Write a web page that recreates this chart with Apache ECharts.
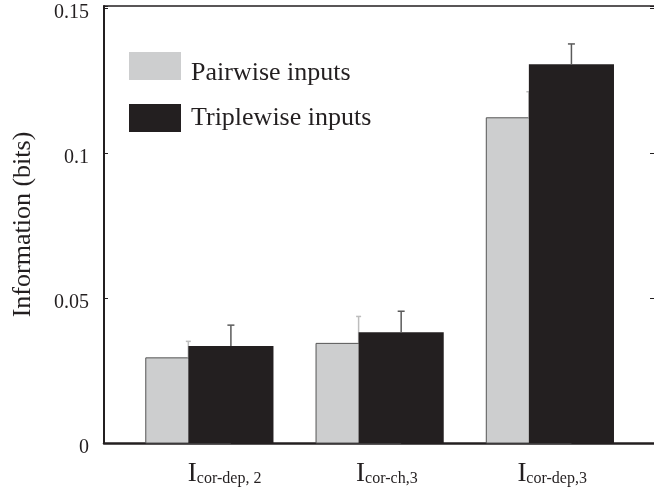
<!DOCTYPE html>
<html>
<head>
<meta charset="utf-8">
<script src="https://cdn.jsdelivr.net/npm/echarts@6/dist/echarts.min.js"></script>
<style>
html,body{margin:0;padding:0;background:#fff;}
#chart{width:654px;height:497px;}
</style>
</head>
<body>
<div id="chart"></div>
<script>
// ---- data ----
const categories = ['cor-dep, 2', 'cor-ch,3', 'cor-dep,3'];
const seriesNames = ['Pairwise inputs', 'Triplewise inputs'];
const pairwise = [0.0294, 0.0344, 0.1123];
const pairwiseErr = [0.0057, 0.0093, 0.0090];
const triplewise = [0.0335, 0.0382, 0.1308];
const triplewiseErr = [0.0072, 0.0073, 0.0070];
const yTicks = [0, 0.05, 0.1, 0.15];
const yLabel = 'Information (bits)';

// ---- styling ----
const FONT = '"Liberation Serif", "Times New Roman", serif';
const TXT = '#231f20';
const GRAY = '#cdcecf';
const BLACK = '#231f20';

const catPos = categories.map((c, i) => i + 1);

function makeRender(offset, fill, stroke, errColor, cap) {
  return function (params, api) {
    const x = api.value(0) + offset;
    const v = api.value(1);
    const e = api.value(2);
    const p0 = api.coord([x - 0.25, v]);
    const p1 = api.coord([x + 0.25, 0]);
    const mid = api.coord([x, v]);
    const top = api.coord([x, v + e]);
    const children = [
      {
        type: 'rect',
        shape: { x: p0[0], y: p0[1], width: p1[0] - p0[0], height: p1[1] - p0[1] },
        style: { fill: fill, stroke: stroke, lineWidth: stroke ? 1 : 0 }
      },
      {
        type: 'line',
        shape: { x1: mid[0], y1: mid[1], x2: top[0], y2: top[1] },
        style: { stroke: errColor, lineWidth: 1.5 }
      },
      {
        type: 'line',
        shape: { x1: top[0] - cap / 2, y1: top[1], x2: top[0] + cap / 2, y2: top[1] },
        style: { stroke: errColor, lineWidth: 1.5 }
      }
    ];
    return { type: 'group', children: children };
  };
}

const pairData = catPos.map((x, i) => [x, pairwise[i], pairwiseErr[i]]);
const tripData = catPos.map((x, i) => [x, triplewise[i], triplewiseErr[i]]);

const labelShift = [30, 14, 4];
const rich = {
  I: { fontFamily: FONT, fontSize: 27, lineHeight: 27, color: TXT, verticalAlign: 'bottom' },
  s: { fontFamily: FONT, fontSize: 16, lineHeight: 16, color: TXT, verticalAlign: 'bottom' }
};
labelShift.forEach((w, i) => { rich['p' + i] = { width: w, height: 10 }; });

const chart = echarts.init(document.getElementById('chart'), null, { renderer: 'canvas' });
chart.setOption({
  animation: false,
  backgroundColor: '#fff',
  grid: { left: 104, right: -2, top: 6, bottom: 54, containLabel: false },
  legend: {
    orient: 'vertical',
    left: 129,
    top: 46,
    itemWidth: 52,
    itemHeight: 28,
    itemGap: 18,
    icon: 'rect',
    padding: 0,
    formatter: function (name) {
      return name === seriesNames[0] ? '{low|' + name + '}' : '{n|' + name + '}';
    },
    textStyle: {
      fontFamily: FONT, fontSize: 26, color: TXT,
      rich: {
        low: { fontFamily: FONT, fontSize: 26, color: TXT, lineHeight: 14, padding: [14, 0, 0, 5] },
        n: { fontFamily: FONT, fontSize: 26, color: TXT, lineHeight: 28, padding: [0, 0, 0, 5] }
      }
    },
    data: seriesNames
  },
  xAxis: [
    {
      type: 'value',
      min: 0.3796,
      max: 3.61,
      position: 'bottom',
      splitLine: { show: false },
      axisTick: { show: false },
      axisLine: { show: true, onZero: false, lineStyle: { color: TXT, width: 2.5 } },
      axisLabel: {
        customValues: catPos,
        margin: 17,
        formatter: function (v) {
          const i = Math.round(v) - 1;
          if (i < 0 || i >= categories.length) return '';
          return '{p' + i + '|}{I|I}{s|' + categories[i] + '}';
        },
        rich: rich
      }
    },
    {
      type: 'value',
      min: 0.3796,
      max: 3.61,
      position: 'top',
      splitLine: { show: false },
      axisTick: { show: false },
      axisLabel: { show: false },
      axisLine: { show: true, onZero: false, lineStyle: { color: TXT, width: 1.5 } }
    }
  ],
  yAxis: [
    {
      type: 'value',
      min: 0,
      max: 0.1509,
      interval: 0.05,
      position: 'left',
      name: yLabel,
      nameLocation: 'middle',
      nameGap: 68,
      nameTextStyle: { fontFamily: FONT, fontSize: 26, color: TXT },
      splitLine: { show: false },
      axisLine: { show: true, onZero: false, lineStyle: { color: TXT, width: 2 } },
      axisTick: { show: true, inside: true, length: 4, lineStyle: { color: TXT, width: 1 } },
      axisLabel: {
        margin: 15,
        fontFamily: FONT,
        fontSize: 20,
        color: TXT,
        verticalAlign: 'top',
        lineHeight: 9,
        formatter: function (v) {
          const t = yTicks.find(k => Math.abs(k - v) < 1e-6);
          return t === undefined ? '' : String(t);
        }
      }
    },
    {
      type: 'value',
      min: 0,
      max: 0.1509,
      interval: 0.05,
      position: 'right',
      splitLine: { show: false },
      axisLabel: { show: false },
      axisLine: { show: false },
      axisTick: { show: true, inside: true, length: 4, lineStyle: { color: TXT, width: 1 } }
    }
  ],
  series: [
    {
      name: seriesNames[0],
      type: 'custom',
      xAxisIndex: 0,
      yAxisIndex: 0,
      itemStyle: { color: GRAY },
      encode: { x: 0, y: 1 },
      renderItem: makeRender(-0.125, GRAY, '#555555', '#bdbdbd', 5),
      data: pairData
    },
    {
      name: seriesNames[1],
      type: 'custom',
      xAxisIndex: 0,
      yAxisIndex: 0,
      itemStyle: { color: BLACK },
      encode: { x: 0, y: 1 },
      renderItem: makeRender(0.125, BLACK, null, '#5a5a5a', 7),
      data: tripData
    }
  ]
});
</script>
</body>
</html>
